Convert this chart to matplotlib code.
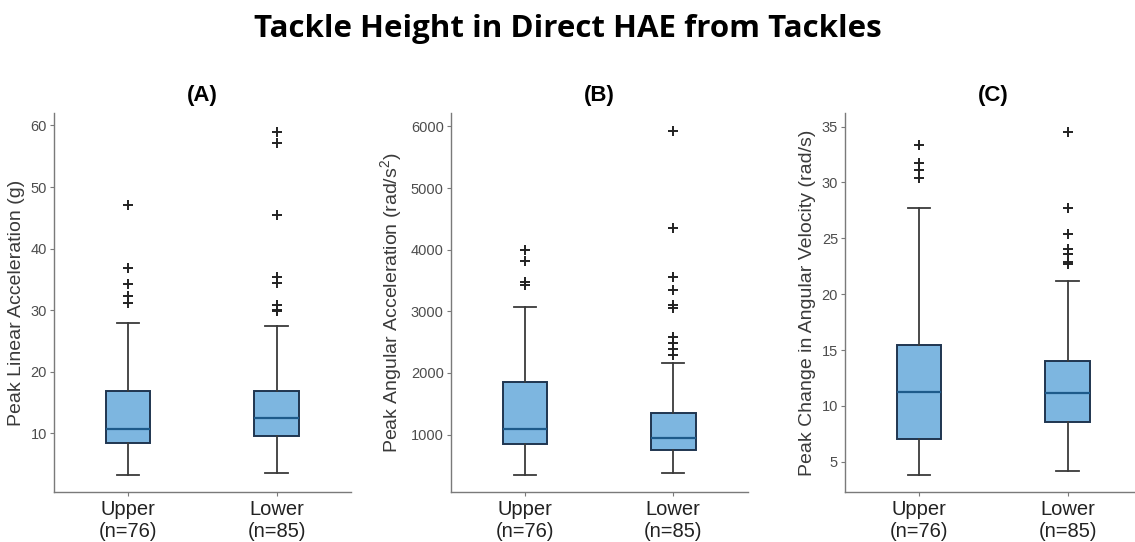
import matplotlib.pyplot as plt

# Box summaries per tackle height group (Upper, Lower)
groups = ["Upper\n(n=76)", "Lower\n(n=85)"]

# (A) peak linear acceleration, g
lin_whislo = [3.3, 3.55]
lin_q1 = [8.5, 9.6]
lin_med = [10.65, 12.5]
lin_q3 = [16.9, 16.9]
lin_whishi = [28.0, 27.4]
lin_fliers = [[47.1, 36.9, 34.2, 32.3, 31.2],
              [59.0, 57.1, 45.5, 35.4, 34.4, 30.9, 30.1, 29.8]]

# (B) peak angular acceleration, rad/s^2
acc_whislo = [341, 373]
acc_q1 = [844, 752]
acc_med = [1092, 952]
acc_q3 = [1849, 1346]
acc_whishi = [3072, 2170]
acc_fliers = [[3990, 3815, 3480, 3435],
              [5924, 4351, 3552, 3346, 3100, 3050, 2580, 2490, 2390, 2290]]

# (C) peak change in angular velocity, rad/s
vel_whislo = [3.81, 4.22]
vel_q1 = [7.03, 8.58]
vel_med = [11.26, 11.14]
vel_q3 = [15.41, 14.04]
vel_whishi = [27.7, 21.15]
vel_fliers = [[33.33, 31.7, 31.15, 30.35],
              [34.55, 27.7, 25.35, 24.0, 23.6, 22.9, 22.7]]


def make_stats(whislo, q1, med, q3, whishi, fliers):
    stats = []
    for i in range(len(groups)):
        stats.append(dict(whislo=whislo[i], q1=q1[i], med=med[i], q3=q3[i],
                          whishi=whishi[i], fliers=fliers[i], label=groups[i]))
    return stats


panels = [
    ("(A)", "Peak Linear Acceleration (g)", (0.5, 62), range(10, 61, 10),
     make_stats(lin_whislo, lin_q1, lin_med, lin_q3, lin_whishi, lin_fliers)),
    ("(B)", "Peak Angular Acceleration (rad/s$^2$)", (70, 6215), range(1000, 6001, 1000),
     make_stats(acc_whislo, acc_q1, acc_med, acc_q3, acc_whishi, acc_fliers)),
    ("(C)", "Peak Change in Angular Velocity (rad/s)", (2.3, 36.2), range(5, 36, 5),
     make_stats(vel_whislo, vel_q1, vel_med, vel_q3, vel_whishi, vel_fliers)),
]

plt.rcParams['font.family'] = ['Liberation Sans', 'DejaVu Sans']
plt.rcParams['mathtext.fontset'] = 'custom'
plt.rcParams['mathtext.rm'] = 'Liberation Sans'

fig = plt.figure(figsize=(11.35, 5.42), dpi=100)
fig.text(0.5, 0.946, "Tackle Height in Direct HAE from Tackles", ha='center', va='center',
         fontsize=22.5, fontweight='bold', family=['Open Sans', 'DejaVu Sans'])

lefts = [0.0476, 0.3971, 0.7445]
box_color = '#7db6e0'
edge_color = '#1f3550'
median_color = '#1d5a8a'
line_color = '#3a3a3a'

for left, (tag, ylabel, ylim, yticks, stats) in zip(lefts, panels):
    ax = fig.add_axes([left, 0.0923, 0.2615, 0.699])
    ax.bxp(stats, positions=[1, 2], widths=0.3, patch_artist=True,
           boxprops=dict(facecolor=box_color, edgecolor=edge_color, linewidth=1.4),
           medianprops=dict(color=median_color, linewidth=1.6),
           whiskerprops=dict(color=line_color, linewidth=1.3),
           capprops=dict(color=line_color, linewidth=1.3),
           flierprops=dict(marker='+', markeredgecolor='#222222', markersize=7.5,
                           markeredgewidth=1.4))
    ax.set_xlim(0.5, 2.5)
    ax.set_ylim(*ylim)
    ax.set_yticks(list(yticks))
    ax.set_title(tag, fontsize=16, fontweight='bold', pad=9)
    ax.set_ylabel(ylabel, fontsize=14, color='#3a3a3a', labelpad=4)

    for side in ['top', 'right']:
        ax.spines[side].set_visible(False)
    for side in ['left', 'bottom']:
        ax.spines[side].set_color('#7a7a7a')
        ax.spines[side].set_linewidth(1.0)
    ax.tick_params(axis='y', labelsize=10.5, labelcolor='#4d4d4d', color='#7a7a7a',
                   length=3, pad=2)
    ax.tick_params(axis='x', labelsize=14.5, labelcolor='#222222', color='#7a7a7a',
                   length=3, pad=3)
    for lbl in ax.get_xticklabels():
        lbl.set_linespacing(1.2)

fig.savefig("out.png", dpi=100)
